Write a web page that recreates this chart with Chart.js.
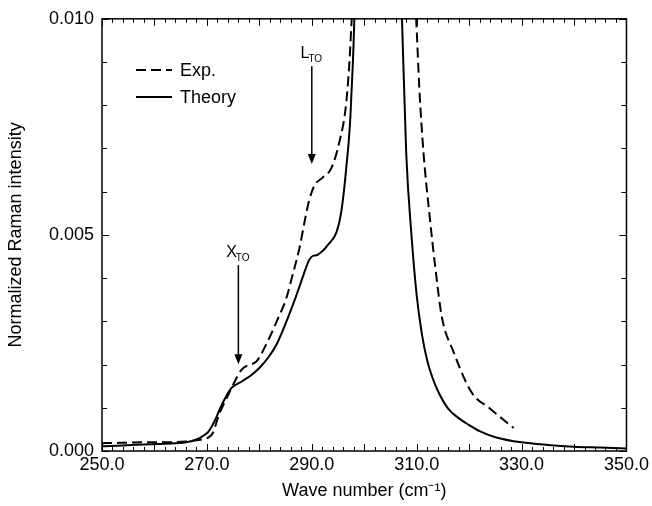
<!DOCTYPE html>
<html>
<head>
<meta charset="utf-8">
<script src="https://cdn.jsdelivr.net/npm/chart.js@4.4.1/dist/chart.umd.min.js"></script>
<style>
  html, body { margin: 0; padding: 0; background: #fff; }
  #wrap { width: 652px; height: 506px; position: relative; }
</style>
</head>
<body>
<div id="wrap"><canvas id="raman"></canvas></div>
<script>
// --- datos ---
const expX = [250, 254, 258, 262, 266, 268, 269.6, 270.5, 271.1, 272.4, 273.6, 274.7, 275.7, 276.6, 277.6, 279.5, 281.6, 283.5, 285.1, 286.4, 287.6, 288.7, 289.5, 290.5, 292, 293.7, 295.2, 296.6, 297.4, 298.5, 303, 308.5, 309.9, 310.5, 311.3, 312.5, 313.5, 314.8, 317, 320.5, 324, 328.5];
const expY = [0.00018, 0.00019, 0.0002, 0.0002, 0.00022, 0.00025, 0.00028, 0.00033, 0.00041, 0.00087, 0.00118, 0.00146, 0.0017, 0.00188, 0.00197, 0.00208, 0.00254, 0.00305, 0.00352, 0.0041, 0.00467, 0.00535, 0.0058, 0.00614, 0.00632, 0.00654, 0.00712, 0.0081, 0.0095, 0.013, 0.05, 0.013, 0.0100, 0.0084, 0.0069, 0.0054, 0.0043, 0.0031, 0.0023, 0.00135, 0.00098, 0.00053];

const thX = [250, 254, 258, 262, 266, 268.6, 269.5, 270.3, 271.5, 272.5, 273.6, 274.7, 276.8, 278.5, 280, 281.8, 283.3, 285.7, 287.5, 288.6, 289.5, 290.3, 290.9, 292, 293, 294.7, 295.6, 296.6, 297.5, 298.5, 303, 306.5, 307.2, 308, 309, 310, 311, 312, 313, 314, 316, 318, 320, 322, 325, 330, 335, 340, 345, 350];
const thY = [0.00011, 0.00013, 0.00015, 0.00017, 0.0002, 0.0003, 0.00037, 0.00045, 0.0007, 0.00098, 0.00125, 0.00146, 0.00162, 0.00176, 0.00192, 0.00218, 0.00247, 0.00316, 0.00375, 0.00414, 0.00442, 0.00452, 0.00453, 0.00462, 0.00476, 0.00506, 0.00552, 0.00659, 0.0081, 0.0125, 0.08, 0.013, 0.0100, 0.0069, 0.0050, 0.0036, 0.0027, 0.0021, 0.0017, 0.0014, 0.00098, 0.00076, 0.0006, 0.00046, 0.00032, 0.0002, 0.00014, 0.0001, 0.00008, 0.00006];

const xTickVals = [250, 270, 290, 310, 330, 350];
const yTickVals = [0, 0.005, 0.010];

// anotaciones: etiqueta, subíndice, x, y de la punta, y del inicio
const arrowLabels = ['L', 'X'];
const arrowSubs = ['TO', 'TO'];
const arrowX = [290, 276];
const arrowTipY = [0.00664, 0.00201];
const arrowTopY = [0.0089, 0.00430];

const FONT = "'Liberation Sans', Arial, Helvetica, sans-serif";
const toPts = (xs, ys) => xs.map((x, i) => ({ x: x, y: ys[i] }));

// marco, ticks hacia dentro, leyenda y flechas
const frameAndNotes = {
    id: 'frameAndNotes',
    afterDatasetsDraw(chart) {
        const { ctx, chartArea: a, scales } = chart;
        const xs = scales.x, ys = scales.y;
        ctx.save();
        ctx.strokeStyle = '#000';
        ctx.lineWidth = 1;

        // ticks X (arriba y abajo)
        for (let v = 250; v <= 350; v += 2) {
            const px = Math.round(xs.getPixelForValue(v)) + 0.5;
            const len = (v % 10 === 0) ? 7 : 4;
            ctx.beginPath();
            ctx.moveTo(px, a.bottom); ctx.lineTo(px, a.bottom - len);
            ctx.moveTo(px, a.top); ctx.lineTo(px, a.top + len);
            ctx.stroke();
        }
        // ticks Y (izquierda y derecha)
        for (let k = 0; k <= 10; k++) {
            const py = Math.round(ys.getPixelForValue(k * 0.001)) + 0.5;
            const len = (k % 5 === 0) ? 7 : 5;
            ctx.beginPath();
            ctx.moveTo(a.left, py); ctx.lineTo(a.left + len, py);
            ctx.moveTo(a.right, py); ctx.lineTo(a.right - len, py);
            ctx.stroke();
        }
        // marco
        ctx.lineWidth = 1.5;
        ctx.strokeRect(a.left, a.top, a.right - a.left, a.bottom - a.top);

        // leyenda
        ctx.font = '18px ' + FONT;
        ctx.fillStyle = '#000';
        ctx.textBaseline = 'middle';
        chart.data.datasets.forEach((ds, i) => {
            const y = 70 + i * 27;
            ctx.lineWidth = 2;
            ctx.setLineDash(ds.borderDash || []);
            ctx.beginPath();
            ctx.moveTo(136, y); ctx.lineTo(172, y);
            ctx.stroke();
            ctx.setLineDash([]);
            ctx.fillText(ds.label, 180, y + 1);
        });

        // flechas con etiquetas
        arrowLabels.forEach((lab, i) => {
            const px = xs.getPixelForValue(arrowX[i]);
            const tip = ys.getPixelForValue(arrowTipY[i]);
            const top = ys.getPixelForValue(arrowTopY[i]);
            ctx.lineWidth = 1.5;
            ctx.beginPath();
            ctx.moveTo(px, top); ctx.lineTo(px, tip - 6);
            ctx.stroke();
            ctx.beginPath();
            ctx.moveTo(px, tip);
            ctx.lineTo(px - 4, tip - 10);
            ctx.lineTo(px + 4, tip - 10);
            ctx.closePath();
            ctx.fill();

            ctx.textBaseline = 'alphabetic';
            ctx.font = '16px ' + FONT;
            const w = ctx.measureText(lab).width;
            ctx.font = '10px ' + FONT;
            const ws = ctx.measureText(arrowSubs[i]).width;
            const x0 = px - (w + ws) / 2;
            ctx.font = '16px ' + FONT;
            ctx.fillText(lab, x0, top - 8);
            ctx.font = '10px ' + FONT;
            ctx.fillText(arrowSubs[i], x0 + w - 1, top - 4);
        });
        ctx.restore();
    }
};

new Chart(document.getElementById('raman'), {
    type: 'scatter',
    data: {
        datasets: [
            {
                label: 'Exp.',
                data: toPts(expX, expY),
                showLine: true,
                borderColor: '#000',
                borderWidth: 2,
                borderDash: [10, 5],
                pointRadius: 0,
                cubicInterpolationMode: 'monotone'
            },
            {
                label: 'Theory',
                data: toPts(thX, thY),
                showLine: true,
                borderColor: '#000',
                borderWidth: 2,
                pointRadius: 0,
                cubicInterpolationMode: 'monotone'
            }
        ]
    },
    options: {
        responsive: true,
        maintainAspectRatio: false,
        animation: false,
        layout: { padding: { left: 0, right: 24, top: 14, bottom: 0 } },
        plugins: { legend: { display: false }, tooltip: { enabled: false } },
        scales: {
            x: {
                type: 'linear',
                min: 250, max: 350,
                afterFit: s => { s.height = 55; },
                afterBuildTicks: s => { s.ticks = xTickVals.map(v => ({ value: v })); },
                grid: { display: false, drawTicks: false },
                border: { display: false },
                ticks: {
                    color: '#000', padding: 3,
                    font: { family: FONT, size: 18 },
                    maxRotation: 0,
                    callback: v => v.toFixed(1)
                },
                title: {
                    display: true, text: 'Wave number (cm⁻¹)', color: '#000',
                    font: { family: FONT, size: 18 },
                    padding: { top: 0, bottom: 4 }
                }
            },
            y: {
                type: 'linear',
                min: 0, max: 0.010,
                afterFit: s => { s.width = 102; },
                afterBuildTicks: s => { s.ticks = yTickVals.map(v => ({ value: v })); },
                grid: { display: false, drawTicks: false },
                border: { display: false },
                ticks: {
                    color: '#000', padding: 8,
                    font: { family: FONT, size: 18 },
                    callback: v => v.toFixed(3)
                },
                title: {
                    display: true, text: 'Normalized Raman intensity', color: '#000',
                    font: { family: FONT, size: 18 },
                    padding: { top: 5, bottom: 0 }
                }
            }
        }
    },
    plugins: [frameAndNotes]
});
</script>
</body>
</html>
